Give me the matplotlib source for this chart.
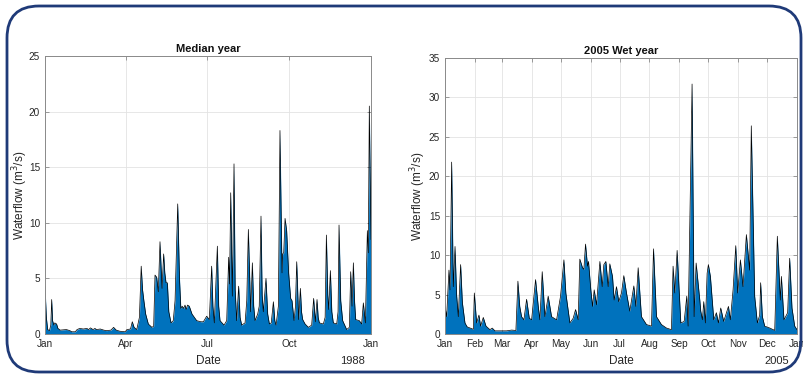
import datetime

import numpy as np
import matplotlib
matplotlib.use('Agg')
import matplotlib.pyplot as plt
import matplotlib.dates as mdates
from matplotlib.patches import FancyBboxPatch

# Median year (1988): day of year, waterflow (m3/s)
median_days = [0, 1.5, 3, 5, 6.5, 7.5, 8.5, 10, 11, 13, 14.5, 17, 24, 28, 30, 34, 36, 39,
               43, 47, 49, 51, 54, 56, 58, 62, 66, 69, 74, 77, 80, 84, 90, 92, 96, 98,
               100, 103, 106, 108, 109.5, 111, 113, 116, 120, 122, 123.5, 125.4, 127.2,
               129.1, 131.4, 133.2, 134.5, 135.9, 137.4, 139, 141.5, 144, 146, 149, 151,
               152.5, 154, 155.5, 157.2, 158.5, 160, 162, 165, 170.3, 175, 177.8, 180,
               181.5, 184.5, 187.1, 188.5, 190.1, 193.5, 195, 196.5, 201, 204, 206.2,
               207.2, 208.5, 210.3, 212.2, 213.5, 215.2, 217.4, 219, 220.8, 224.6, 226.5,
               228.3, 230.9, 232.8, 234.3, 235.8, 238.8, 240.5, 242.5, 243.8, 245.1,
               248.1, 250, 251.9, 254, 256.4, 258, 259.4, 262, 263.8, 266.1, 266.8, 268,
               269.5, 271.3, 273.5, 275.8, 277.3, 279.6, 281.1, 282.6, 284.8, 286.7, 288,
               289.3, 292, 295.7, 299.4, 301.6, 303.5, 305.4, 306.7, 308, 312.5, 314.5,
               315.9, 317.5, 318.5, 320.4, 322, 323.7, 327.5, 329, 330.1, 332, 334.2,
               338.7, 341.7, 343.2, 344.7, 346.2, 347.5, 348.8, 352.9, 355.5, 357.4,
               359.7, 361.9, 363, 364.1, 366]
median_flow = [4.3, 1.5, 0.4, 0.3, 0.8, 3.1, 1.2, 0.8, 1.0, 0.9, 0.5, 0.35, 0.4, 0.3, 0.2,
               0.2, 0.4, 0.5, 0.45, 0.5, 0.4, 0.55, 0.4, 0.5, 0.4, 0.45, 0.35, 0.3, 0.35,
               0.6, 0.35, 0.25, 0.2, 0.4, 0.45, 1.1, 0.6, 0.4, 1.5, 6.1, 4.0, 3.0, 1.8,
               0.9, 0.6, 0.7, 5.3, 5.1, 3.8, 8.3, 4.1, 7.2, 5.5, 4.6, 4.6, 2.0, 1.0, 1.2,
               3.0, 11.7, 5.0, 2.3, 2.5, 2.3, 2.6, 2.2, 2.6, 2.5, 1.8, 1.2, 1.1, 1.1, 1.4,
               1.6, 1.3, 6.1, 2.5, 1.0, 7.9, 2.5, 1.2, 0.8, 1.2, 6.9, 4.5, 12.7, 3.4, 15.3,
               4.0, 1.2, 4.3, 1.5, 0.8, 1.0, 3.0, 9.4, 2.0, 6.4, 2.5, 1.2, 1.8, 2.5, 10.6,
               3.5, 2.0, 5.0, 1.8, 0.9, 1.0, 2.9, 1.2, 0.8, 2.5, 18.3, 5.5, 7.2, 7.3, 10.4,
               9.3, 5.5, 3.2, 3.0, 1.2, 2.4, 6.5, 1.3, 4.1, 2.0, 1.3, 0.9, 0.6, 0.8, 3.2,
               1.1, 3.1, 1.5, 1.0, 0.9, 1.5, 8.9, 3.5, 2.2, 5.7, 2.0, 1.0, 0.9, 2.0, 9.8,
               3.0, 1.2, 0.4, 0.6, 5.6, 2.5, 6.4, 3.0, 1.3, 1.2, 0.9, 2.8, 1.0, 9.3, 7.3,
               20.5, 8.5]

# 2005 wet year: day of year, waterflow (m3/s)
wet_days = [0, 1.7, 4.1, 5.2, 6.9, 8.6, 10.4, 12, 13.8, 16.2, 18, 20.7, 23, 25.9, 29.4,
            30.4, 32.8, 35.2, 36.9, 39.7, 42.5, 46.6, 49, 51.8, 63.9, 69.1, 73.5, 75.6,
            77.5, 79.4, 81.8, 84.6, 87.4, 89.8, 93.9, 96.7, 98.4, 100.8, 103.6, 107,
            110.5, 115.7, 119.8, 123.3, 125.3, 129.5, 132.9, 135.4, 138.1, 139.8, 142.6,
            144, 145.7, 147.8, 148.8, 151.2, 153, 154.7, 157.1, 160.6, 163, 164.7, 166.8,
            169.2, 170.9, 173.7, 175.4, 177.8, 180.2, 183, 185.4, 188.2, 191.6, 195.8,
            197.9, 200.3, 203.7, 208.9, 214.1, 216.2, 219.3, 224.4, 229.6, 234.8, 236.5,
            238.3, 240.7, 244.5, 248, 250.7, 252.1, 256.2, 258.3, 260.4, 264.2, 265.2,
            266.9, 268.3, 270, 271.8, 273.1, 275.2, 278.7, 281.4, 283.5, 285.9, 289,
            293.9, 295.9, 298.7, 301.5, 303.5, 306.3, 309, 312.5, 315.9, 317.6, 321.1,
            323.9, 326.3, 327.3, 329.1, 331.5, 336.7, 341.9, 344.6, 347.7, 348.8, 351.5,
            355.3, 357.4, 359.8, 362.6, 365]
wet_flow = [3.5, 2.2, 8.1, 5.6, 21.8, 6.0, 11.1, 5.0, 2.2, 8.8, 4.0, 1.4, 0.9, 0.76, 0.6,
            5.2, 1.4, 2.4, 1.0, 2.1, 1.0, 0.55, 0.75, 0.4, 0.4, 0.5, 0.45, 6.7, 3.5, 2.2,
            1.8, 4.4, 2.0, 1.8, 6.9, 3.5, 1.8, 7.9, 2.2, 4.8, 2.2, 1.8, 4.8, 9.4, 5.2, 1.4,
            2.0, 3.1, 1.8, 9.5, 8.4, 8.2, 11.4, 8.6, 9.2, 5.6, 3.5, 5.6, 3.7, 9.2, 6.0,
            8.8, 9.2, 6.0, 8.9, 7.3, 4.3, 6.0, 4.1, 5.2, 7.4, 5.2, 2.9, 6.1, 3.5, 8.4, 2.2,
            1.2, 1.0, 10.8, 2.2, 1.2, 0.76, 0.55, 8.6, 5.2, 10.6, 1.4, 1.6, 4.8, 1.0, 31.7,
            2.2, 9.0, 4.3, 2.9, 1.8, 4.1, 1.4, 7.7, 8.8, 7.3, 1.8, 2.7, 1.4, 3.3, 1.6, 3.5,
            1.8, 5.6, 11.2, 5.2, 9.4, 6.0, 12.6, 8.1, 26.4, 4.8, 1.4, 2.4, 6.5, 2.2, 1.0,
            0.76, 0.46, 12.4, 4.3, 7.3, 1.8, 2.7, 9.6, 3.3, 1.0, 0.55]

BLUE = '#0072BD'
GREY = '#262626'

plt.rcParams['font.family'] = ['Liberation Sans', 'DejaVu Sans']
plt.rcParams['font.size'] = 7


def to_dates(year, days):
    start = mdates.date2num(datetime.datetime(year, 1, 1))
    return start + np.asarray(days, dtype=float)


def plot_panel(ax, year, days, flow, ymax, title, months, label_x):
    x = to_dates(year, days)
    ax.fill_between(x, 0, flow, color=BLUE, linewidth=0, zorder=2)
    ax.plot(x, flow, color='black', lw=0.5, zorder=3)

    ax.set_xlim(mdates.date2num(datetime.datetime(year, 1, 1)),
                mdates.date2num(datetime.datetime(year + 1, 1, 1)))
    ax.set_ylim(0, ymax)
    ax.set_yticks(np.arange(0, ymax + 1, 5))
    ax.xaxis.set_major_locator(mdates.MonthLocator(bymonth=months))
    ax.xaxis.set_major_formatter(mdates.DateFormatter('%b'))

    # grid sits under the filled area, as in MATLAB
    ax.set_axisbelow(True)
    ax.grid(True, color='#e3e3e3', lw=0.6)
    for s in ax.spines.values():
        s.set_color('#8a8a8a')
        s.set_linewidth(0.7)
        s.set_zorder(4)
    ax.tick_params(direction='in', top=True, right=True, length=3,
                   width=0.6, color='#8a8a8a', labelcolor=GREY, pad=3.5,
                   labelsize=7.2)

    ax.set_title(title, fontweight='bold', fontsize=8, color='#111111', pad=3)
    ax.set_ylabel('Waterflow (m$^3$/s)', fontsize=8.5, color=GREY, va='center')
    ax.yaxis.set_label_coords(label_x, 0.5)
    ax.annotate(str(year), xy=(0.942, 0), xycoords='axes fraction',
                xytext=(0, -19.5), textcoords='offset points',
                ha='center', va='center', fontsize=8, color=GREY)
    ax.annotate('Date', xy=(0.5, 0), xycoords='axes fraction',
                xytext=(0, -19.5), textcoords='offset points',
                ha='center', va='center', fontsize=8.5, color=GREY)


fig = plt.figure(figsize=(8.04, 3.74), dpi=100)

# rounded frame round the whole figure
frame = FancyBboxPatch((0.07, 0.02), 7.94, 3.66,
                       boxstyle='round,pad=0,rounding_size=0.32',
                       transform=fig.dpi_scale_trans, fill=False,
                       edgecolor='#1f3a78', lw=2)
fig.patches.append(frame)

ax1 = fig.add_axes([45 / 804, 40 / 374, 326 / 804, 278 / 374])
plot_panel(ax1, 1988, median_days, median_flow, 25, 'Median year', [1, 4, 7, 10],
           (20 - 45) / 326)

ax2 = fig.add_axes([445 / 804, 40 / 374, 352 / 804, 276 / 374])
plot_panel(ax2, 2005, wet_days, wet_flow, 35, '2005 Wet year', list(range(1, 13)),
           (418 - 445) / 352)

fig.savefig('out.png', dpi=100)
